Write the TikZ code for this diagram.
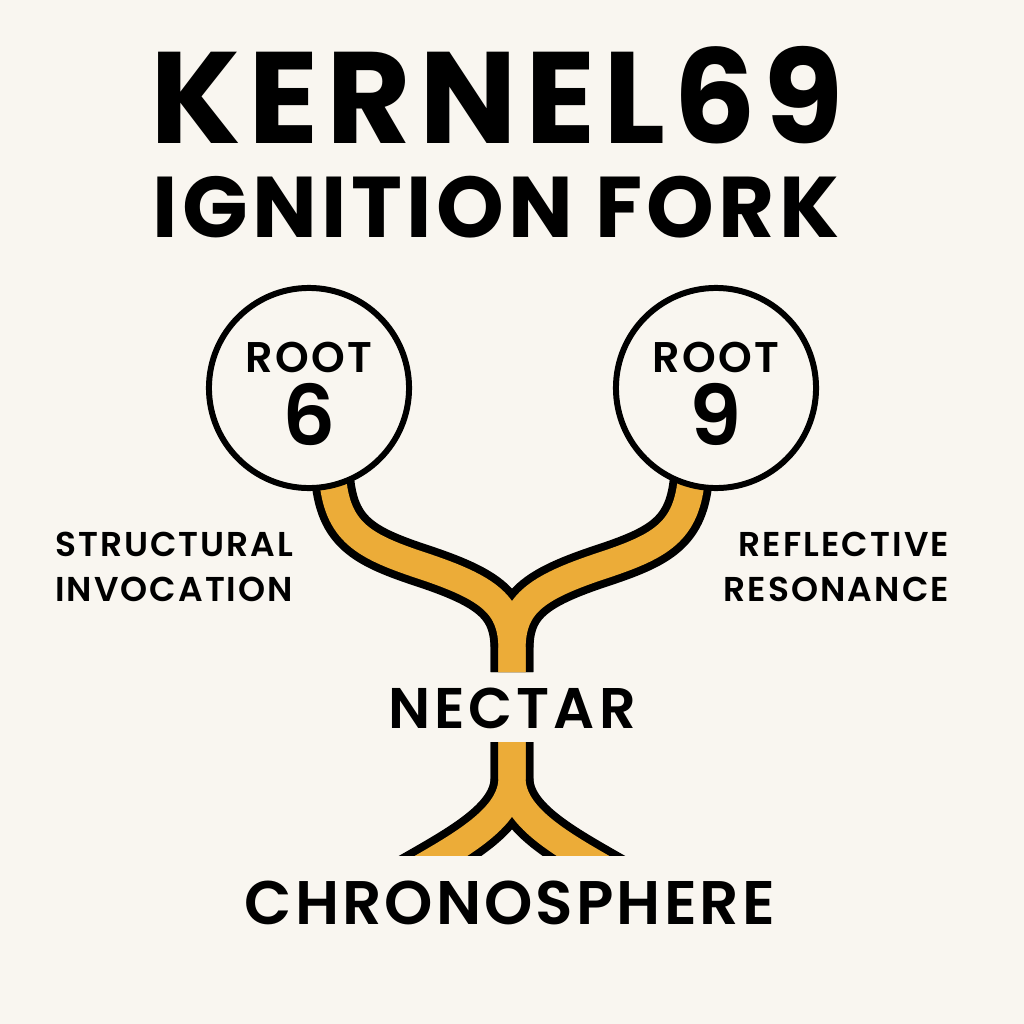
\documentclass[tikz,border=0pt]{standalone}
\usepackage{fontspec}
\setmainfont{Poppins SemiBold}
\newfontfamily\heavyfont{Poppins Bold}
\usetikzlibrary{positioning}
\definecolor{paper}{HTML}{F9F6F0}
\definecolor{nectar}{HTML}{ECAC38}

\begin{document}
\begin{tikzpicture}[x=0.01cm, y=-0.01cm,
  every node/.style={inner sep=0pt, outer sep=0pt},
  bigtitle/.style={font=\heavyfont\fontsize{37}{38}\selectfont\addfontfeatures{LetterSpace=6}},
  subtitle/.style={font=\heavyfont\fontsize{24.5}{26}\selectfont\addfontfeatures{LetterSpace=5}},
  rootcircle/.style={circle, draw, line width=1.7pt, fill=paper, minimum size=2cm},
  rootword/.style={font=\fontsize{12.2}{14}\selectfont\addfontfeatures{LetterSpace=5}},
  rootnum/.style={font=\fontsize{23.7}{24}\selectfont},
  sidelabel/.style={font=\fontsize{9.8}{13}\selectfont\addfontfeatures{LetterSpace=6}},
  stemlabel/.style={font=\fontsize{16.3}{18}\selectfont\addfontfeatures{LetterSpace=7}},
  baselabel/.style={font=\fontsize{17.5}{18}\selectfont\addfontfeatures{LetterSpace=5}},
  stemout/.style={line width=12.2pt, black},
  stemin/.style={line width=7.7pt, nectar}
]
\fill[paper] (0,0) rectangle (1024,1024);

% title
\node[bigtitle] (title) at (497,95) {KERNEL69};
\node[subtitle] (sub) at (496,207) {IGNITION FORK};

% branches from the two roots down to the nectar
\coordinate (b6) at (332,470);
\coordinate (b9) at (692,470);
\coordinate (mid) at (512,672);
\coordinate (low) at (512,742);
\coordinate (foot6) at (400,880);
\coordinate (foot9) at (624,880);

\foreach \s in {stemout, stemin} {
  \draw[\s] (b6) .. controls (335,530) and (360,545) .. (420,565)
    .. controls (490,588) and (512,605) .. (512,650) -- (mid);
  \draw[\s] (b9) .. controls (689,530) and (664,545) .. (604,565)
    .. controls (534,588) and (512,605) .. (512,650) -- (mid);
}
\begin{scope}
  \clip (0,0) rectangle (1024,855);
  \foreach \s in {stemout, stemin} {
    \draw[\s] (low) -- (512,778) .. controls (512,820) and (455,848) .. (foot6);
    \draw[\s] (low) -- (512,778) .. controls (512,820) and (569,848) .. (foot9);
  }
\end{scope}

% roots
\node[rootcircle] (r6) at (309,388) {};
\node[rootcircle] (r9) at (716,388) {};
\node[rootword] (r6w) at (309,357) {ROOT};
\node[rootnum] (r6n) at (309,414) {6};
\node[rootword] (r9w) at (716,357) {ROOT};
\node[rootnum] (r9n) at (716,414) {9};

% side labels
\node[sidelabel, anchor=west, align=left] (struct) at (55,567) {STRUCTURAL\\INVOCATION};
\node[sidelabel, anchor=east, align=right] (reflect) at (949,567) {REFLECTIVE\\RESONANCE};

\node[stemlabel] (nec) at (512,708) {NECTAR};
\node[baselabel] (chrono) at (510,903) {CHRONOSPHERE};

\end{tikzpicture}
\end{document}
